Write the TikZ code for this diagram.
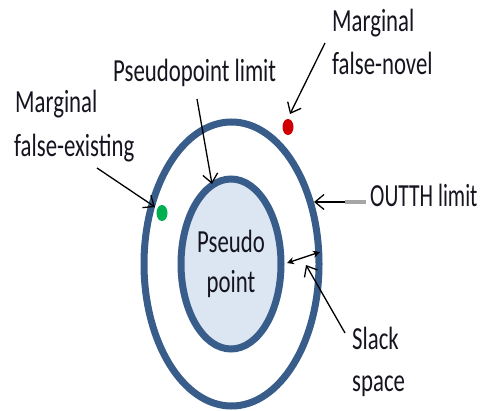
\documentclass[tikz,border=0pt]{standalone}
\usepackage{fontspec}
\setmainfont{Carlito}
\usepackage{graphicx}
\usetikzlibrary{arrows.meta,shapes.geometric}
\definecolor{ring}{HTML}{385D8A}
\definecolor{core}{HTML}{DCE6F2}
\definecolor{reddot}{HTML}{D00000}
\definecolor{greendot}{HTML}{00B050}
\definecolor{txt}{HTML}{151520}
\newcommand\vs[1]{\scalebox{0.97}[1.37]{#1}}
\newcommand\vsn[1]{\scalebox{0.92}[1.37]{#1}}
\begin{document}
\begin{tikzpicture}[x=1pt,y=-1pt,
  lbl/.style={inner sep=0pt, anchor=base west, font=\fontsize{23.5}{28}\selectfont, text=txt},
  ptr/.style={line width=1.3pt, -{Straight Barb[length=9pt,width=15pt,line width=1.3pt]}},
  dbl/.style={line width=1.3pt, {Stealth[length=7pt,width=7pt]}-{Stealth[length=7pt,width=7pt]}},
  ringline/.style={draw=ring, line width=7pt},
  dot/.style={ellipse, inner sep=0pt, minimum width=11pt, minimum height=16pt}]
\useasboundingbox (0,0) rectangle (486,411);
\fill[white] (0,0) rectangle (486,411);
% rings
\draw[ringline] (231.5,264) ellipse [x radius=87.5pt, y radius=142pt];
\draw[ringline, fill=core] (231,264) ellipse [x radius=50pt, y radius=85pt];
% dots
\node[dot, fill=reddot] (novel) at (288,127) {};
\node[dot, fill=greendot] (exist) at (162,213) {};
% labels
\node[lbl] (mfn1) at (332,32) {\vs{Marginal}};
\node[lbl] (mfn2) at (332,75) {\vs{false-novel}};
\node[lbl] (pl) at (113,82) {\vs{Pseudopoint limit}};
\node[lbl] (mfe1) at (15,113) {\vs{Marginal}};
\node[lbl] (mfe2) at (14,157) {\vs{false-existing}};
\node[lbl] (outth) at (370,207) {\vsn{OUTTH limit}};
\node[lbl, anchor=base] (ps1) at (231,252) {\vs{Pseudo}};
\node[lbl, anchor=base] (ps2) at (231,292) {\vs{point}};
\node[lbl] (sl1) at (352,349) {\vs{Slack}};
\node[lbl] (sl2) at (352,391) {\vs{space}};
% connector ends
\coordinate (a1s) at (325,43);  \coordinate (a1e) at (290,114);
\coordinate (a2s) at (197,99);  \coordinate (a2e) at (212,184);
\coordinate (a3s) at (97,168);  \coordinate (a3e) at (155,207);
\coordinate (a4s) at (366,202); \coordinate (a4e) at (314,202);
\coordinate (a4g) at (345,202);
\coordinate (a5s) at (345,333); \coordinate (a5e) at (306,265);
\coordinate (s1) at (287,263);  \coordinate (s2) at (320,252);
% connectors
\draw[ptr] (a1s) -- (a1e);
\draw[ptr] (a2s) -- (a2e);
\draw[ptr] (a3s) -- (a3e);
\draw[ptr] (a4s) -- (a4e);
\draw[line width=3.5pt, gray!70] (a4g) -- (a4s);
\draw[dbl] (s1) -- (s2);
\draw[ptr] (a5s) -- (a5e);
\end{tikzpicture}
\end{document}
